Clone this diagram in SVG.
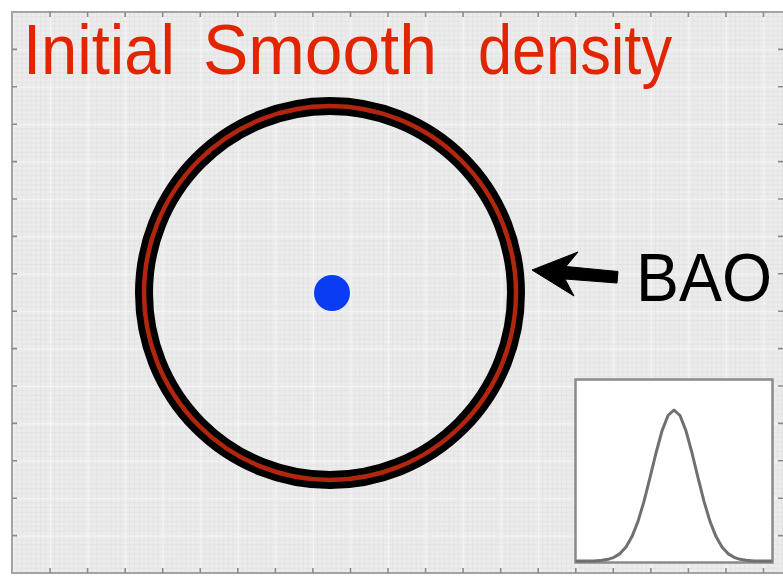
<svg xmlns="http://www.w3.org/2000/svg" width="783" height="576" viewBox="0 0 783 576">
  <style>
    .title { font-family: "Liberation Sans", Arial, sans-serif; font-size: 70px; fill: #e32400; }
    .label { font-family: "Liberation Sans", Arial, sans-serif; font-size: 68px; fill: #000000; }
    .tick { stroke: #8a8a8a; stroke-width: 1.6; fill: none; }
    .frame { fill: url(#grid); stroke: #a3a3a3; stroke-width: 2; }
  </style>
  <defs>
    <pattern id="grid" patternUnits="userSpaceOnUse" x="12.5" y="12" width="37.55" height="37.4">
      <rect width="37.55" height="37.4" fill="#ececec"/>
      <path d="M4.69 0V37.4M9.39 0V37.4M14.08 0V37.4M18.78 0V37.4M23.47 0V37.4M28.16 0V37.4M32.86 0V37.4M0 4.68H37.55M0 9.35H37.55M0 14.03H37.55M0 18.7H37.55M0 23.38H37.55M0 28.05H37.55M0 32.73H37.55" stroke="#e2e2e2" stroke-width="0.9" fill="none"/>
      <path d="M0.5 0V37.4M0 0.5H37.55" stroke="#f4f4f4" stroke-width="1.1" fill="none"/>
    </pattern>
  </defs>
  <rect width="783" height="576" fill="#ffffff"/>
  <g id="plot">
    <rect class="frame" x="12" y="12" width="775" height="561"/>
    <path class="tick" d="M50.1 12v5M87.6 12v5M125.2 12v5M162.7 12v5M200.3 12v5M237.8 12v5M275.4 12v5M312.9 12v5M350.5 12v5M388 12v5M425.6 12v5M463.1 12v5M500.7 12v5M538.2 12v5M575.8 12v5M613.3 12v5M650.9 12v5M688.4 12v5M726 12v5M763.5 12v5"/>
    <path class="tick" d="M50.1 573v-5M87.6 573v-5M125.2 573v-5M162.7 573v-5M200.3 573v-5M237.8 573v-5M275.4 573v-5M312.9 573v-5M350.5 573v-5M388 573v-5M425.6 573v-5M463.1 573v-5M500.7 573v-5M538.2 573v-5M575.8 573v-5M613.3 573v-5M650.9 573v-5M688.4 573v-5M726 573v-5M763.5 573v-5"/>
    <path class="tick" d="M12 49.4h5M12 86.8h5M12 124.2h5M12 161.6h5M12 199h5M12 236.4h5M12 273.8h5M12 311.2h5M12 348.6h5M12 386h5M12 423.4h5M12 460.8h5M12 498.2h5M12 535.6h5"/>
    <path class="tick" d="M783 49.4h-5M783 86.8h-5M783 124.2h-5M783 161.6h-5M783 199h-5M783 236.4h-5M783 273.8h-5M783 311.2h-5M783 348.6h-5M783 386h-5M783 423.4h-5M783 460.8h-5M783 498.2h-5M783 535.6h-5"/>
  </g>
  <g id="title">
    <text class="title" y="74"><tspan x="23" textLength="152" lengthAdjust="spacingAndGlyphs">Initial</tspan><tspan x="203" textLength="234" lengthAdjust="spacingAndGlyphs">Smooth</tspan><tspan x="478" textLength="194" lengthAdjust="spacingAndGlyphs">density</tspan></text>
  </g>
  <g id="bao-ring">
    <ellipse cx="330" cy="293" rx="186" ry="187" fill="none" stroke="#000000" stroke-width="18"/>
    <ellipse cx="330" cy="293" rx="186" ry="187" fill="none" stroke="#b3260e" stroke-width="4.5"/>
  </g>
  <g id="center-dot">
    <circle cx="332" cy="293" r="18" fill="#0b3cf5"/>
  </g>
  <g id="bao-label">
    <text class="label" x="636" y="301" textLength="136" lengthAdjust="spacingAndGlyphs">BAO</text>
  </g>
  <g id="connectors">
    <polygon points="532,270 578,252 566,266.5 618,271.5 617,283 565,279 574,296" fill="#000000" stroke="#000000" stroke-width="1" stroke-linejoin="miter"/>
  </g>
  <g id="inset">
    <rect x="575.5" y="379.5" width="197" height="183" fill="#ffffff" stroke="#8a8a8a" stroke-width="2.5"/>
    <polyline points="577,561 594,561 602,560.3 608,559.3 614,557.3 620,553.6 626,547 632,536.6 638,521.4 644,501.4 650,477.7 656,453 662,430.9 668,415.5 674,410 680,415.5 686,430.9 692,453 698,477.7 704,501.4 710,521.4 716,536.6 722,547 728,553.6 734,557.3 740,559.3 746,560.3 754,561 771,561" fill="none" stroke="#707070" stroke-width="3" stroke-linejoin="round" stroke-linecap="round"/>
  </g>
</svg>
